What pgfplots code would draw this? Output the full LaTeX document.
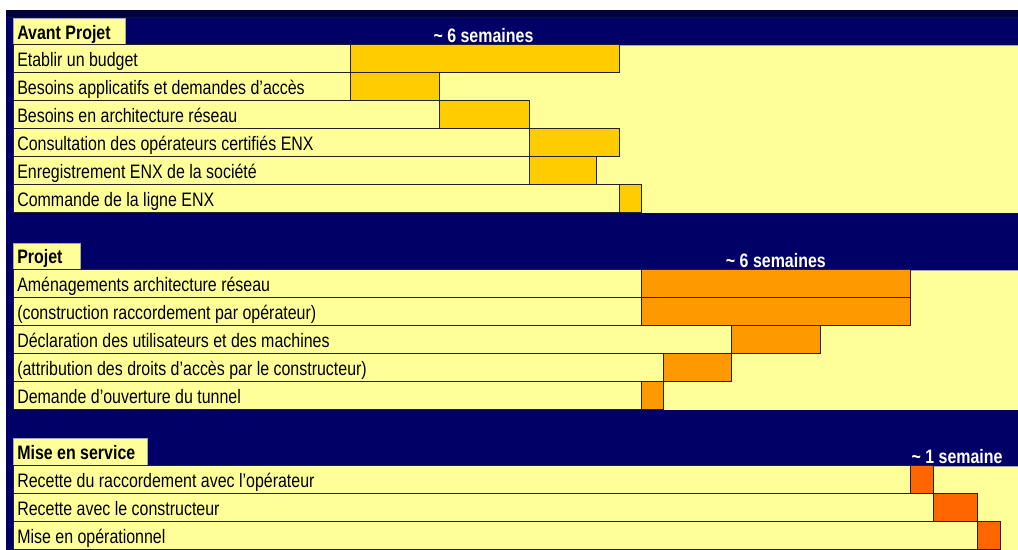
\documentclass[border=0pt]{standalone}
\usepackage{pgfplots}
\usepackage{pgfplotstable}
\pgfplotsset{compat=1.18}
\usepackage{fontspec}
\setmainfont{Liberation Sans}[FakeStretch=0.82]
\definecolor{navy}{HTML}{000066}
\definecolor{navydark}{HTML}{00003A}
\definecolor{navyline}{HTML}{0000A0}
\definecolor{paleyellow}{HTML}{FFFF99}
\definecolor{barA}{HTML}{FFCC00}
\definecolor{barB}{HTML}{FF9900}
\definecolor{barC}{HTML}{FF6600}
\definecolor{edge}{HTML}{222222}

% y = row centre (pixel rows), start / end in weeks
\pgfplotstableread{
y start end
59 0 6
87 0 2
115 2 4
143 4 6
171 4 5.5
199 6 6.5
}\secA
\pgfplotstableread{
y start end
284 6.5 12.5
312 6.5 12.5
340 8.5 10.5
368 7 8.5
396 6.5 7
}\secB
\pgfplotstableread{
y start end
480 12.5 13
508 13 14
536 14 14.5
}\secC

\newcommand{\lbl}{\fontsize{14.6}{16}\selectfont}
\newcommand{\lblb}{\fontsize{14.6}{16}\selectfont\bfseries}

\begin{document}
\begin{tikzpicture}
\begin{axis}[
  name=ax,
  set layers,
  scale only axis, width=763.5pt, height=412.5pt,
  xmin=-0.28986, xmax=22.408, ymin=0, ymax=550, y dir=reverse,
  axis lines=none, xtick=\empty, ytick=\empty,
  clip=false,
  every axis plot/.append style={xbar, bar width=28, bar shift=0pt, line width=0.75pt, draw=edge},
]
\begin{pgfonlayer}{axis background}
  \fill[white] (axis cs:-0.4,-2) rectangle (axis cs:22.6,552);
  \fill[navy] (axis cs:-0.15608,10) rectangle (axis cs:22.6,552);
  \fill[navydark] (axis cs:-0.15608,10) rectangle (axis cs:22.6,17);
  \fill[navyline] (axis cs:-0.15608,17) rectangle (axis cs:22.6,18.2);
  % section areas
  \fill[paleyellow] (axis cs:0,45) rectangle (axis cs:22.6,213);
  \fill[paleyellow] (axis cs:0,270) rectangle (axis cs:22.6,410.5);
  \fill[paleyellow] (axis cs:0,466) rectangle (axis cs:22.6,552);
  \draw[gray!70, line width=0.6pt] (axis cs:0,45) -- (axis cs:22.6,45);
  \draw[gray!70, line width=0.6pt] (axis cs:0,270) -- (axis cs:22.6,270);
  \draw[gray!70, line width=0.6pt] (axis cs:0,466) -- (axis cs:22.6,466);
  % section tabs
  \fill[paleyellow] (axis cs:0,18.5) rectangle (axis cs:2.4972,45.2);
  \fill[paleyellow] (axis cs:0,243) rectangle (axis cs:1.4939,270.2);
  \fill[paleyellow] (axis cs:0,438) rectangle (axis cs:2.9877,466.2);
  \draw[gray!70, line width=0.6pt] (axis cs:0,45) |- (axis cs:2.4972,18.5) -- (axis cs:2.4972,45);
  \draw[gray!70, line width=0.6pt] (axis cs:0,270) |- (axis cs:1.4939,243) -- (axis cs:1.4939,270);
  \draw[gray!70, line width=0.6pt] (axis cs:0,466) |- (axis cs:2.9877,438) -- (axis cs:2.9877,466);
\end{pgfonlayer}

\addplot[fill=barA] table[x expr=\thisrow{end}+7.514, y=y]{\secA};
\addplot[fill=paleyellow] table[x expr=\thisrow{start}+7.514, y=y]{\secA};
\addplot[fill=barB] table[x expr=\thisrow{end}+7.514, y=y]{\secB};
\addplot[fill=paleyellow] table[x expr=\thisrow{start}+7.514, y=y]{\secB};
\addplot[fill=barC] table[x expr=\thisrow{end}+7.514, y=y]{\secC};
\addplot[fill=paleyellow] table[x expr=\thisrow{start}+7.514, y=y]{\secC};

\begin{pgfonlayer}{axis foreground}
  \node[anchor=base west, inner sep=0pt, font=\lblb] at (axis cs:0.0892,39.5) {Avant Projet};
  \node[anchor=base west, inner sep=0pt, font=\lblb] at (axis cs:0.0892,264) {Projet};
  \node[anchor=base west, inner sep=0pt, font=\lblb] at (axis cs:0.0892,460) {Mise en service};

  \node[anchor=base west, inner sep=0pt, font=\lbl] at (axis cs:0.0892,67) {Etablir un budget};
  \node[anchor=base west, inner sep=0pt, font=\lbl] at (axis cs:0.0892,95) {Besoins applicatifs et demandes d'accès};
  \node[anchor=base west, inner sep=0pt, font=\lbl] at (axis cs:0.0892,123) {Besoins en architecture réseau};
  \node[anchor=base west, inner sep=0pt, font=\lbl] at (axis cs:0.0892,151) {Consultation des opérateurs certifiés ENX};
  \node[anchor=base west, inner sep=0pt, font=\lbl] at (axis cs:0.0892,179) {Enregistrement ENX de la société};
  \node[anchor=base west, inner sep=0pt, font=\lbl] at (axis cs:0.0892,207) {Commande de la ligne ENX};

  \node[anchor=base west, inner sep=0pt, font=\lbl] at (axis cs:0.0892,292) {Aménagements architecture réseau};
  \node[anchor=base west, inner sep=0pt, font=\lbl] at (axis cs:0.0892,320) {(construction raccordement par opérateur)};
  \node[anchor=base west, inner sep=0pt, font=\lbl] at (axis cs:0.0892,348) {Déclaration des utilisateurs et des machines};
  \node[anchor=base west, inner sep=0pt, font=\lbl] at (axis cs:0.0892,376) {(attribution des droits d’accès par le constructeur)};
  \node[anchor=base west, inner sep=0pt, font=\lbl] at (axis cs:0.0892,404) {Demande d’ouverture du tunnel};

  \node[anchor=base west, inner sep=0pt, font=\lbl] at (axis cs:0.0892,488) {Recette du raccordement avec l’opérateur};
  \node[anchor=base west, inner sep=0pt, font=\lbl] at (axis cs:0.0892,516) {Recette avec le constructeur};
  \node[anchor=base west, inner sep=0pt, font=\lbl] at (axis cs:0.0892,544) {Mise en opérationnel};

  \node[anchor=base, inner sep=0pt, text=white, font=\lblb] at (axis cs:10.49,43) {\textasciitilde{} 6 semaines};
  \node[anchor=base, inner sep=0pt, text=white, font=\lblb] at (axis cs:17.01,268) {\textasciitilde{} 6 semaines};
  \node[anchor=base, inner sep=0pt, text=white, font=\lblb] at (axis cs:21.05,464) {\textasciitilde{} 1 semaine};
\end{pgfonlayer}
\end{axis}
\pgfresetboundingbox
\path[use as bounding box] (ax.south west) rectangle (ax.north east);
\end{tikzpicture}
\end{document}
